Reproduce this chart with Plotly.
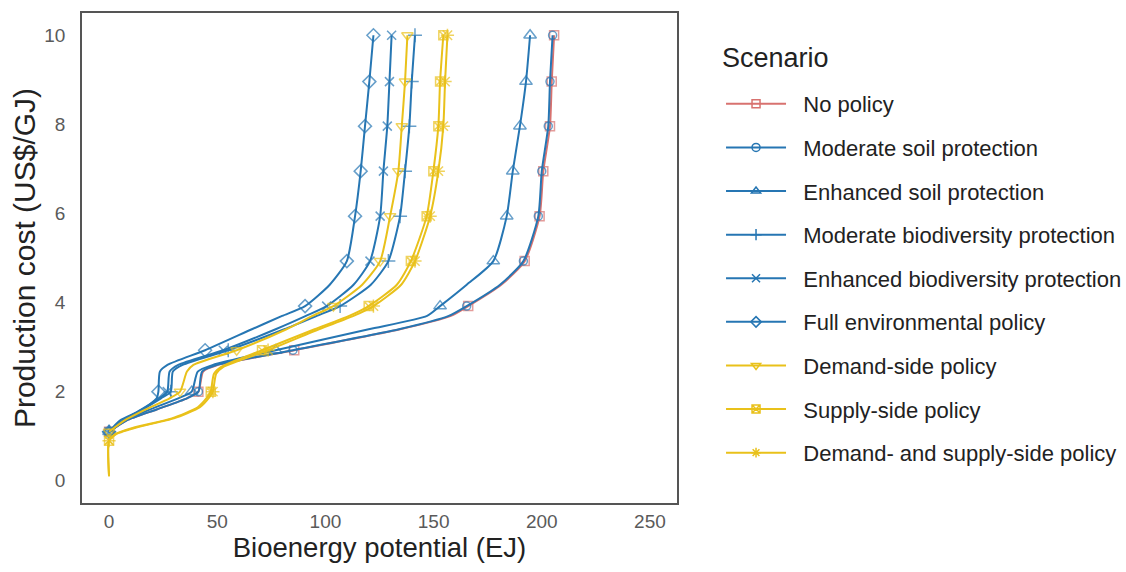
import plotly.graph_objects as go

# ---------------- data ----------------
SCENARIOS = [
    "No policy",
    "Moderate soil protection",
    "Enhanced soil protection",
    "Moderate biodiversity protection",
    "Enhanced biodiversity protection",
    "Full environmental policy",
    "Demand-side policy",
    "Supply-side policy",
    "Demand- and supply-side policy",
]

# production cost levels (US$/GJ) for the environmental / demand-side curves
COST_GRID = [1.1, 1.35, 1.6, 1.85, 2.0, 2.45, 2.6, 2.93, 3.4, 3.7, 3.92, 4.4,
             4.93, 5.94, 6.95, 7.96, 8.96, 10.0]
MARKER_FLAGS = [1, 0, 0, 0, 1, 0, 0, 1, 0, 0, 1, 0, 1, 1, 1, 1, 1, 1]

# production cost levels for the supply-side curves
COST_GRID_SUPPLY = [0.1, 0.9, 1.05, 1.2, 1.4, 1.65, 1.88, 2.0, 2.4, 2.56, 2.93,
                    3.4, 3.7, 3.92, 4.4, 4.93, 5.94, 6.95, 7.96, 8.96, 10.0]
MARKER_FLAGS_SUPPLY = [0, 1, 0, 0, 0, 0, 0, 1, 0, 0, 1, 0, 0, 1, 0, 1, 1, 1, 1, 1, 1]

# bioenergy potential (EJ)
POT_NO_POLICY = [0, 8, 22, 36, 41.3, 43.5, 50.5, 85.6, 134.5, 158, 166, 181.3,
                 192.1, 199.0, 200.7, 203.8, 204.6, 205.7]
POT_MOD_SOIL = [0, 8, 22, 36, 41.3, 43, 50, 85, 134, 157, 165.3, 180.7,
                191.5, 198.4, 200.0, 203.0, 203.8, 205.0]
POT_ENH_SOIL = [0, 7.5, 19, 32, 38.2, 41, 48, 77, 120, 147, 153, 165.3,
                177.6, 183.8, 186.6, 189.9, 192.7, 194.6]
POT_MOD_BIO = [0, 6.5, 15.5, 24, 28.5, 29.5, 34, 55.1, 81, 96, 106.8, 121,
               129.1, 134.5, 136.8, 138.8, 139.9, 141.4]
POT_ENH_BIO = [0, 6.5, 15, 23, 26.9, 28, 32, 52.8, 77, 91, 100.6, 113,
               120.6, 125.3, 126.8, 128.6, 129.6, 130.6]
POT_FULL_ENV = [0, 5, 15.5, 22, 22.8, 23.5, 27, 44.4, 66, 80, 90.6, 102,
                109.9, 113.7, 116.3, 118.3, 120.3, 122.2]
POT_DEMAND = [0, 7, 17, 28, 32.8, 36, 39, 59, 82, 94, 103.7, 117,
              125.3, 129.9, 133.7, 135.3, 136.8, 137.9]
POT_SUPPLY = [0, 0, 3, 12, 29, 41, 45.5, 47, 48.5, 52, 70.7,
              95, 111, 120, 133, 139.5, 146.8, 149.9, 152.2, 153.0, 154.5]
POT_DEMAND_SUPPLY = [0, 0, 3.5, 13, 30, 42, 46.5, 48, 49.5, 53, 73.5,
                     97, 113, 122.2, 135, 141.4, 148.4, 152.2, 154.5, 155.3, 156.4]

X_TICKS = [0, 50, 100, 150, 200, 250]
Y_TICKS = [0, 2, 4, 6, 8, 10]

# ---------------- styling ----------------
RED = "#D8726F"
BLUE = "#2676B3"
YELLOW = "#E9C11A"

series = [
    (SCENARIOS[0], COST_GRID, MARKER_FLAGS, POT_NO_POLICY, RED, "square-open", 9),
    (SCENARIOS[1], COST_GRID, MARKER_FLAGS, POT_MOD_SOIL, BLUE, "circle-open", 8),
    (SCENARIOS[2], COST_GRID, MARKER_FLAGS, POT_ENH_SOIL, BLUE, "triangle-up-open", 11),
    (SCENARIOS[3], COST_GRID, MARKER_FLAGS, POT_MOD_BIO, BLUE, "cross-thin-open", 10),
    (SCENARIOS[4], COST_GRID, MARKER_FLAGS, POT_ENH_BIO, BLUE, "x-thin-open", 9),
    (SCENARIOS[5], COST_GRID, MARKER_FLAGS, POT_FULL_ENV, BLUE, "diamond-open", 10),
    (SCENARIOS[6], COST_GRID, MARKER_FLAGS, POT_DEMAND, YELLOW, "triangle-down-open", 10),
    (SCENARIOS[7], COST_GRID_SUPPLY, MARKER_FLAGS_SUPPLY, POT_SUPPLY, YELLOW, "square-x-open", 9),
    (SCENARIOS[8], COST_GRID_SUPPLY, MARKER_FLAGS_SUPPLY, POT_DEMAND_SUPPLY, YELLOW, "asterisk-open", 11),
]

fig = go.Figure()

for i, (name, costs, flags, pots, color, symbol, msize) in enumerate(series):
    sizes = [msize if f else 0 for f in flags]
    fig.add_trace(go.Scatter(
        x=pots, y=costs, mode="lines+markers", name=name,
        line=dict(color=color, width=2, shape="spline", smoothing=0.6),
        marker=dict(symbol=symbol, size=sizes, color=color,
                    line=dict(color=color, width=1.5)),
        showlegend=False, legendgroup=f"g{i}",
    ))

# legend entries
for i, (name, costs, flags, pots, color, symbol, msize) in enumerate(series):
    fig.add_trace(go.Scatter(
        x=[None], y=[None], mode="lines+markers",
        name="\u00a0\u00a0" + name,
        line=dict(color=color, width=2),
        marker=dict(symbol=symbol, size=8, color=color,
                    line=dict(color=color, width=1.5)),
        showlegend=True, legendgroup=f"g{i}",
    ))

FONT = "Liberation Sans, Arial, sans-serif"

fig.update_layout(
    width=1126, height=572,
    margin=dict(l=82, r=449, t=13, b=69, autoexpand=False),
    paper_bgcolor="white", plot_bgcolor="white",
    font=dict(family=FONT, color="#222222"),
    showlegend=True,
    legend=dict(
        font=dict(size=22, color="#222222"),
        x=1.074, xanchor="left", y=0.857, yanchor="top",
        traceorder="grouped", tracegroupgap=12,
        itemwidth=60, bgcolor="rgba(0,0,0,0)",
    ),
    annotations=[dict(
        text="Scenario", xref="paper", yref="paper",
        x=1.0723, y=0.908, xanchor="left", yanchor="middle",
        showarrow=False, font=dict(size=27, color="#222222"),
    )],
    xaxis=dict(
        range=[-12.5, 262.5], tickvals=X_TICKS, ticktext=[str(v) for v in X_TICKS],
        showgrid=False, zeroline=False, automargin=False,
        showline=True, mirror=True, linecolor="#555555", linewidth=1.5,
        ticks="", tickfont=dict(size=19, color="#5a5a5a"),
        title=dict(text="Bioenergy potential (EJ)", font=dict(size=27.5, color="#222222"), standoff=6),
    ),
    yaxis=dict(
        range=[-0.5, 10.5], tickvals=Y_TICKS, ticktext=[str(v) for v in Y_TICKS],
        showgrid=False, zeroline=False, automargin=False,
        showline=True, mirror=True, linecolor="#555555", linewidth=1.5,
        ticks="outside", ticklen=11, tickcolor="rgba(0,0,0,0)",
        tickfont=dict(size=19, color="#5a5a5a"),
        title=dict(text="Production cost (US$/GJ)", font=dict(size=30, color="#222222"), standoff=0),
    ),
)

fig.write_html("out.html", config={"displayModeBar": False},
               post_script="document.body.style.margin='0px';")
